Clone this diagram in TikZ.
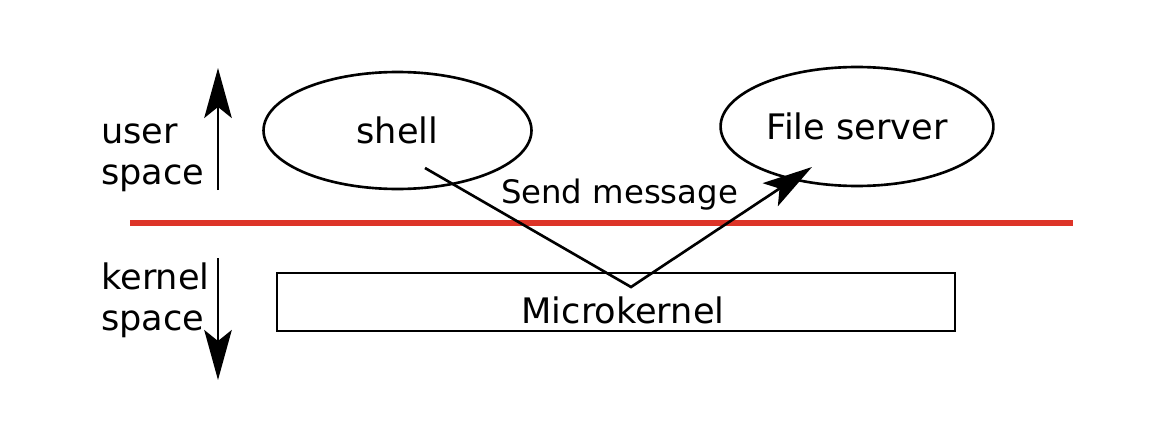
\documentclass[tikz,border=0pt]{standalone}
\usepackage{fontspec}
\setmainfont{DejaVu Sans}
\usetikzlibrary{shapes.geometric,arrows.meta}
\definecolor{divider}{RGB}{221,52,40}

\begin{document}
\begin{tikzpicture}[x=0.02cm,y=-0.02cm,
    txt/.style={font=\fontsize{20}{23.4}\selectfont},
    proc/.style={draw,ellipse,line width=1.5pt,txt,minimum width=5.36cm,minimum height=2.34cm},
    tip/.style={-{Stealth[length=1cm,width=0.55cm,inset=0.22cm]},line width=1.5pt}]
        \useasboundingbox (0,0) rectangle (1152,446);

        \node[proc] (shell) at (397.5,130.5) {shell};
        \node[proc,minimum width=5.28cm,minimum height=2.38cm] (fileserver) at (857,126.5) {File server};
        \node[draw,rectangle,line width=1.5pt,minimum width=13.56cm,minimum height=1.16cm] (microkernel) at (616,302) {};
        \node[txt] (microkerneltext) at (623,310) {Microkernel};

        \draw[divider,line width=3.1pt] (130,223) -- (1073,223);

        \node[txt,align=left,inner sep=0,anchor=west] (userspace) at (101,157.5) {user\\space};
        \node[txt,align=left,inner sep=0,anchor=west] (kernelspace) at (101,300) {kernel\\space};
        \coordinate (userfrom) at (218,190);
        \coordinate (userto) at (218,68);
        \coordinate (kernelfrom) at (218,258);
        \coordinate (kernelto) at (218,380);
        \path[draw,tip] (userfrom) -- (userto);
        \path[draw,tip] (kernelfrom) -- (kernelto);

        \coordinate (msgfrom) at (425,168);
        \coordinate (msgvia) at (631,287);
        \coordinate (msgto) at (812,167);
        \path[draw,tip] (msgfrom) -- (msgvia) -- (msgto);
        \node[font=\fontsize{18.4}{21}\selectfont] (sendmsg) at (619.5,195) {Send message};
    \end{tikzpicture}
\end{document}
